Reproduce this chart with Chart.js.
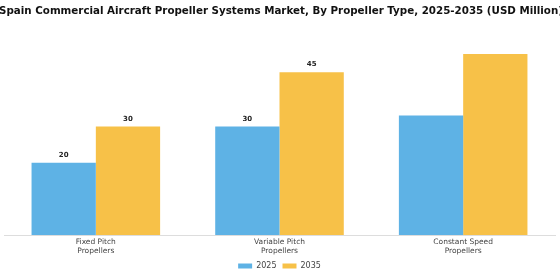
<!DOCTYPE html>
<html>
<head>
<meta charset="utf-8">
<script src="https://cdn.jsdelivr.net/npm/chart.js@4.4.0/dist/chart.umd.min.js"></script>
<style>
  html, body { margin: 0; padding: 0; background: #fff; }
  #wrap { width: 560px; height: 280px; position: relative; }
</style>
</head>
<body>
<div id="wrap"><canvas id="myChart"></canvas></div>
<script>
// values
const categories = [['Fixed Pitch', 'Propellers'], ['Variable Pitch', 'Propellers'], ['Constant Speed', 'Propellers']];
const values2025 = [20, 30, 33];
const values2035 = [30, 45, 50];
// the reference only prints labels over the first two groups
const shownLabels2025 = ['20', '30', null];
const shownLabels2035 = ['30', '45', null];
const titleText = 'Spain Commercial Aircraft Propeller Systems Market, By Propeller Type, 2025-2035 (USD Million)';

const barLabels = {
    id: 'barLabels',
    afterDatasetsDraw(chart) {
        const ctx = chart.ctx;
        const texts = [shownLabels2025, shownLabels2035];
        ctx.save();
        ctx.font = 'bold 7px "DejaVu Sans"';
        ctx.fillStyle = '#222';
        ctx.textAlign = 'center';
        ctx.textBaseline = 'bottom';
        chart.data.datasets.forEach((ds, i) => {
            chart.getDatasetMeta(i).data.forEach((bar, j) => {
                if (texts[i][j]) ctx.fillText(texts[i][j], bar.x, bar.y - 4);
            });
        });
        ctx.restore();
    }
};

// the built-in title squeezes text to fit; the reference runs off both edges
const wideTitle = {
    id: 'wideTitle',
    afterDraw(chart) {
        const ctx = chart.ctx;
        ctx.save();
        ctx.font = 'bold 10.3px "DejaVu Sans"';
        ctx.fillStyle = '#111';
        ctx.textAlign = 'center';
        ctx.textBaseline = 'middle';
        ctx.fillText(titleText, chart.width / 2 + 1, 11);
        ctx.restore();
    }
};

const ctx = document.getElementById('myChart');
new Chart(ctx, {
    type: 'bar',
    data: {
        labels: categories,
        datasets: [{
            label: '2025',
            data: values2025,
            backgroundColor: 'rgb(94, 178, 229)'
        }, {
            label: '2035',
            data: values2035,
            backgroundColor: 'rgb(247, 193, 72)'
        }]
    },
    options: {
        responsive: true,
        maintainAspectRatio: false,
        animation: false,
        layout: { padding: { left: 4, right: 5, top: 36, bottom: 0 } },
        datasets: {
            bar: { categoryPercentage: 0.7, barPercentage: 1.0 }
        },
        scales: {
            x: {
                grid: { display: false },
                border: { display: true, color: '#ddd' },
                ticks: {
                    color: '#444',
                    font: { family: '"DejaVu Sans"', size: 7.5 },
                    padding: -5,
                    maxRotation: 0
                },
                afterFit(scale) { scale.height += 5; }
            },
            y: {
                display: false,
                beginAtZero: true,
                max: 55
            }
        },
        plugins: {
            legend: {
                position: 'bottom',
                labels: {
                    boxWidth: 14,
                    boxHeight: 5,
                    color: '#444',
                    padding: 6,
                    font: { family: '"DejaVu Sans"', size: 8 }
                }
            },
            title: { display: false },
            tooltip: { enabled: false }
        }
    },
    plugins: [barLabels, wideTitle]
});
</script>
</body>
</html>
